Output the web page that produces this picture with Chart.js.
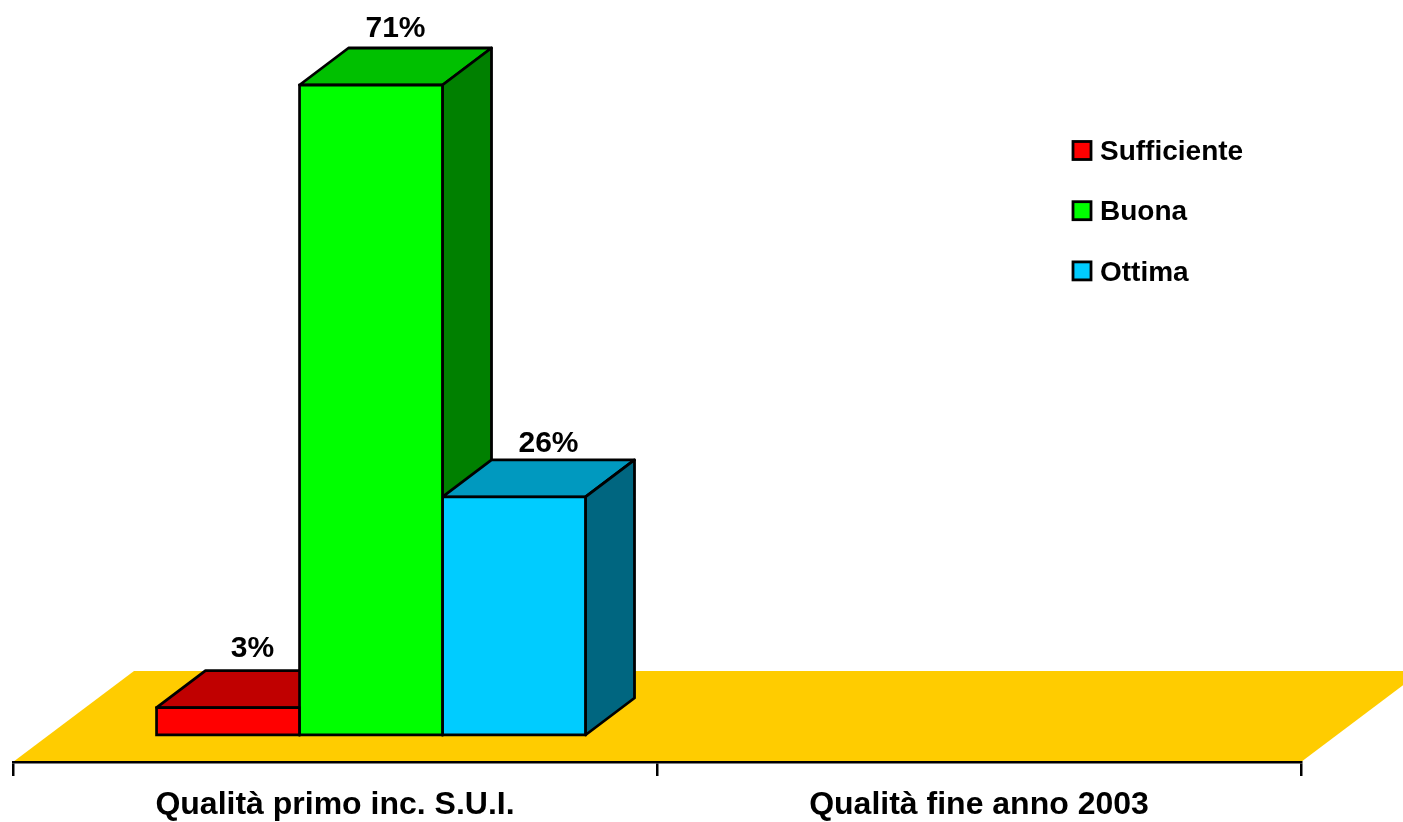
<!DOCTYPE html>
<html><head><meta charset="utf-8">
<script src="https://cdn.jsdelivr.net/npm/chart.js@4/dist/chart.umd.min.js"></script>
<style>html,body{margin:0;padding:0;background:#fff}#w{width:1403px;height:822px}</style>
</head><body><div id="w"><canvas id="c"></canvas></div>
<script>
const categories = ['Qualità primo inc. S.U.I.', 'Qualità fine anno 2003'];
const seriesNames = ['Sufficiente', 'Buona', 'Ottima'];
const sufficiente = [3, null];
const buona = [71, null];
const ottima = [26, null];
const frontColors = ['#FF0000', '#00FF00', '#00CCFF'];
const topColors = ['#C00000', '#00C000', '#0099BF'];
const sideColors = ['#800000', '#008000', '#006680'];
const labelNudgeX = [0, 0, 10];
const labelLift = [22, 19, 16];
const FONT = '"Liberation Sans", Arial, sans-serif';
const LINE = 2.8;

const FLOOR = {dx: 121, dy: -91, color: '#FFCC00'};
const SHIFT = {dx: 36, dy: -27};
const DEPTH = {dx: 49, dy: -37};

function poly(ctx, pts, fill, stroke) {
  ctx.beginPath();
  pts.forEach((p, i) => i ? ctx.lineTo(p[0], p[1]) : ctx.moveTo(p[0], p[1]));
  ctx.closePath();
  ctx.fillStyle = fill;
  ctx.fill();
  if (stroke) { ctx.strokeStyle = '#000'; ctx.lineWidth = LINE; ctx.lineJoin = 'round'; ctx.stroke(); }
}

const scene3d = {
  id: 'scene3d',
  beforeDatasetsDraw(chart) {
    const {ctx, chartArea: a} = chart;
    ctx.save();
    poly(ctx, [[a.left, a.bottom], [a.left + FLOOR.dx, a.bottom + FLOOR.dy],
               [a.right + FLOOR.dx, a.bottom + FLOOR.dy], [a.right, a.bottom]], FLOOR.color);
    ctx.translate(SHIFT.dx, SHIFT.dy);
    chart.data.datasets.forEach((ds, i) => {
      chart.getDatasetMeta(i).data.forEach((bar, j) => {
        if (ds.data[j] == null) return;
        const {x, y, base, width} = bar.getProps(['x', 'y', 'base', 'width'], true);
        const l = x - width / 2, r = x + width / 2, d = DEPTH;
        poly(ctx, [[l, y], [l + d.dx, y + d.dy], [r + d.dx, y + d.dy], [r, y]], topColors[i], true);
        poly(ctx, [[r, y], [r + d.dx, y + d.dy], [r + d.dx, base + d.dy], [r, base]], sideColors[i], true);
      });
    });
  },
  afterDatasetsDraw(chart) {
    const {ctx} = chart;
    ctx.restore();
    ctx.save();
    ctx.font = 'bold 30px ' + FONT;
    ctx.fillStyle = '#000';
    ctx.textAlign = 'center';
    ctx.textBaseline = 'middle';
    chart.data.datasets.forEach((ds, i) => {
      chart.getDatasetMeta(i).data.forEach((bar, j) => {
        if (ds.data[j] == null) return;
        const {x, y} = bar.getProps(['x', 'y'], true);
        ctx.fillText(ds.data[j] + '%', x + SHIFT.dx + DEPTH.dx / 2 + labelNudgeX[i], y + SHIFT.dy + DEPTH.dy - labelLift[i]);
      });
    });
    ctx.font = 'bold 28px ' + FONT;
    ctx.textAlign = 'left';
    chart.data.datasets.forEach((ds, i) => {
      const cy = 150.5 + i * 60.2;
      ctx.fillStyle = ds.backgroundColor;
      ctx.strokeStyle = '#000';
      ctx.lineWidth = LINE;
      ctx.fillRect(1073, cy - 9, 18, 18);
      ctx.strokeRect(1073, cy - 9, 18, 18);
      ctx.fillStyle = '#000';
      ctx.fillText(ds.label, 1100, cy + 2);
    });
    ctx.restore();
  }
};

const mk = (i, data) => ({
  label: seriesNames[i], data, clip: false,
  backgroundColor: frontColors[i], borderColor: '#000', borderWidth: LINE,
  inflateAmount: LINE / 2,
  barPercentage: 1, categoryPercentage: 429 / 644, borderSkipped: false
});

new Chart(document.getElementById('c'), {
  type: 'bar',
  data: { labels: categories, datasets: [mk(0, sufficiente), mk(1, buona), mk(2, ottima)] },
  options: {
    responsive: true, maintainAspectRatio: false, animation: false,
    layout: { padding: {left: 13, right: 102, top: 29.6, bottom: 0} },
    plugins: { legend: {display: false}, tooltip: {enabled: false}, title: {display: false} },
    scales: {
      x: {
        afterFit(scale) { scale.height = 60; },
        grid: {drawOnChartArea: false, drawTicks: true, tickLength: 14, color: '#000', lineWidth: 2.5, z: 1},
        border: {display: true, color: '#000', width: 2.5, z: 1},
        ticks: {color: '#000', font: {family: FONT, size: 32, weight: 'bold'}, padding: 9.6, maxRotation: 0}
      },
      y: { display: false, min: 0, max: 80 }
    }
  },
  plugins: [scene3d]
});
</script></body></html>
